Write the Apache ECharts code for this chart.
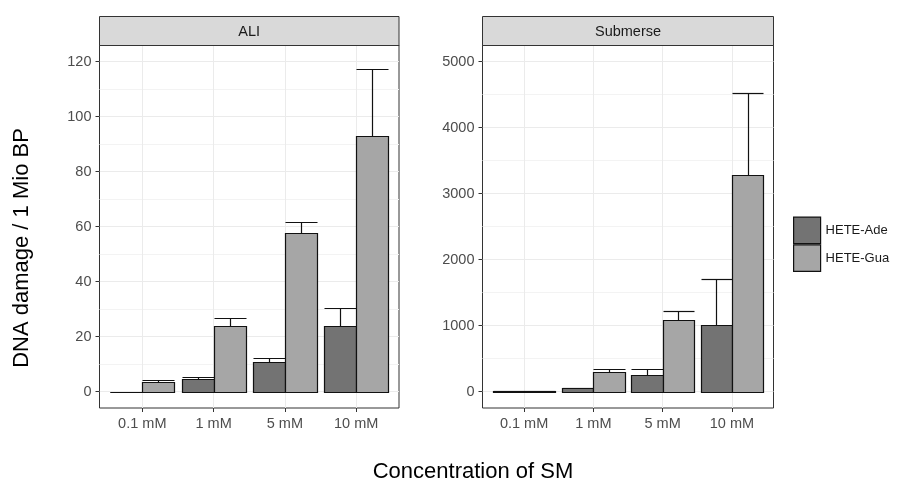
<!DOCTYPE html>
<html>
<head>
<meta charset="utf-8">
<script src="https://cdn.jsdelivr.net/npm/echarts@6/dist/echarts.min.js"></script>
<style>
  html, body { margin: 0; padding: 0; background: #fff; }
  #chart { width: 898px; height: 486px; }
</style>
</head>
<body>
<div id="chart"></div>
<script>
// Concentrations of sulfur mustard (x categories)
const categories = ['0.1 mM', '1 mM', '5 mM', '10 mM'];
const seriesNames = ['HETE-Ade', 'HETE-Gua'];
const panelNames = ['ALI', 'Submerse'];

// ALI: mean and mean + SD
const aliAde = [0, 4.4, 10.7, 23.8];
const aliAdeUpper = [0, 5.3, 12.2, 30.2];
const aliGua = [3.4, 23.9, 57.6, 92.8];
const aliGuaUpper = [4.1, 26.7, 61.7, 117.2];

// Submerse: mean and mean + SD
const subAde = [5, 55, 252, 1005];
const subAdeUpper = [5, 60, 348, 1712];
const subGua = [10, 303, 1080, 3277];
const subGuaUpper = [12, 348, 1222, 4530];

// Tick labels
const aliTicks = [0, 20, 40, 60, 80, 100, 120];
const aliMinor = [10, 30, 50, 70, 90, 110];
const subTicks = [0, 1000, 2000, 3000, 4000, 5000];
const subMinor = [500, 1500, 2500, 3500, 4500];

const FONT = '"Liberation Sans", Arial, Helvetica, sans-serif';
const COLORS = ['#737373', '#a6a6a6'];
const EDGE = '#111111';
const DODGE = 0.45; // width of each dodged bar in category units

// Panel geometry
const panels = [
  { left: 99.5, top: 45, width: 299.5, height: 363, yMin: -6, yMax: 126 },
  { left: 482.5, top: 45, width: 291, height: 363, yMin: -250, yMax: 5250 }
];
const STRIP_TOP = 16;

const chart = echarts.init(document.getElementById('chart'), null, { renderer: 'canvas' });

const crisp = v => Math.round(v) + 0.5;

function barRender(offset) {
  return function (params, api) {
    const x = api.value(0), v = api.value(1);
    const p0 = api.coord([x + offset - DODGE / 2, 0]);
    const p1 = api.coord([x + offset + DODGE / 2, v]);
    const x0 = crisp(p0[0]), x1 = crisp(p1[0]);
    const yb = crisp(p0[1]), yt = crisp(p1[1]);
    return {
      type: 'rect',
      shape: { x: x0, y: yt, width: x1 - x0, height: Math.max(yb - yt, 0) },
      style: { fill: api.visual('color'), stroke: EDGE, lineWidth: 1.2 }
    };
  };
}

function errRender(offset) {
  return function (params, api) {
    const x = api.value(0), v = api.value(1), up = api.value(2);
    const c = api.coord([x + offset, v]);
    const u = api.coord([x + offset, up]);
    const l = api.coord([x + offset - DODGE / 2, up]);
    const r = api.coord([x + offset + DODGE / 2, up]);
    const xc = crisp(c[0]), yu = crisp(u[1]);
    return {
      type: 'group',
      children: [
        { type: 'line', shape: { x1: xc, y1: crisp(c[1]), x2: xc, y2: yu }, style: { stroke: EDGE, lineWidth: 1.2 } },
        { type: 'line', shape: { x1: crisp(l[0]), y1: yu, x2: crisp(r[0]), y2: yu }, style: { stroke: EDGE, lineWidth: 1.2 } }
      ]
    };
  };
}

const panelData = [
  { means: [aliAde, aliGua], uppers: [aliAdeUpper, aliGuaUpper], ticks: aliTicks, minor: aliMinor },
  { means: [subAde, subGua], uppers: [subAdeUpper, subGuaUpper], ticks: subTicks, minor: subMinor }
];

const grid = [], xAxis = [], yAxis = [], series = [], graphic = [];
const catIdx = categories.map((c, i) => i);

panels.forEach((p, k) => {
  grid.push({ left: p.left, top: p.top, width: p.width, height: p.height, show: true,
              borderColor: '#333333', borderWidth: 1, backgroundColor: 'transparent', containLabel: false });
  xAxis.push({
    type: 'value', gridIndex: k, min: -0.6, max: 3.6, position: 'bottom',
    axisLine: { show: false, onZero: false },
    axisTick: { show: true, customValues: catIdx, length: 4, lineStyle: { color: '#333333' } },
    axisLabel: { customValues: catIdx, formatter: v => categories[Math.round(v)] || '',
                 color: '#4d4d4d', fontSize: 14.5, fontFamily: FONT, margin: 8 },
    splitLine: { show: true, lineStyle: { color: '#ebebeb', width: 1 } }
  });
  // major axis with labels
  yAxis.push({
    type: 'value', gridIndex: k, min: p.yMin, max: p.yMax, position: 'left',
    axisLine: { show: false, onZero: false },
    axisTick: { show: true, customValues: panelData[k].ticks, length: 4, lineStyle: { color: '#333333' } },
    axisLabel: { customValues: panelData[k].ticks, formatter: v => String(v),
                 color: '#4d4d4d', fontSize: 14.5, fontFamily: FONT, margin: 8 },
    splitLine: { show: true, lineStyle: { color: '#ebebeb', width: 1 } }
  });
  // minor grid lines
  yAxis.push({
    type: 'value', gridIndex: k, min: p.yMin, max: p.yMax, position: 'left',
    axisLine: { show: false, onZero: false },
    axisTick: { show: false, customValues: panelData[k].minor },
    axisLabel: { show: false, customValues: panelData[k].minor },
    splitLine: { show: true, lineStyle: { color: '#f3f3f3', width: 1 } }
  });
  const yMain = k * 2;
  [0, 1].forEach(s => {
    const offset = s === 0 ? -DODGE / 2 : DODGE / 2;
    series.push({
      type: 'custom', name: seriesNames[s] + ' error', xAxisIndex: k, yAxisIndex: yMain,
      renderItem: errRender(offset), z: 2, silent: true,
      data: catIdx.map(i => [i, panelData[k].means[s][i], panelData[k].uppers[s][i]])
    });
    series.push({
      type: 'custom', name: seriesNames[s], xAxisIndex: k, yAxisIndex: yMain,
      renderItem: barRender(offset), z: 3,
      itemStyle: { color: COLORS[s], borderColor: EDGE, borderWidth: 1.2 },
      data: catIdx.map(i => [i, panelData[k].means[s][i]])
    });
  });
  // facet strip
  graphic.push({
    type: 'rect', shape: { x: p.left, y: STRIP_TOP + 0.5, width: p.width, height: p.top - STRIP_TOP },
    style: { fill: '#d9d9d9', stroke: '#333333', lineWidth: 1 }, z: 10
  });
  graphic.push({
    type: 'text', x: p.left + p.width / 2, y: (STRIP_TOP + p.top) / 2 + 1,
    style: { text: panelNames[k], fill: '#1a1a1a', font: '14.5px ' + FONT, align: 'center', verticalAlign: 'middle' }, z: 11
  });
});

graphic.push({
  type: 'text', x: 22, y: 248, rotation: Math.PI / 2,
  style: { text: 'DNA damage / 1 Mio BP', fill: '#000', font: '22px ' + FONT, align: 'center', verticalAlign: 'middle' }
});
graphic.push({
  type: 'text', x: 473, y: 472,
  style: { text: 'Concentration of SM', fill: '#000', font: '22px ' + FONT, align: 'center', verticalAlign: 'middle' }
});

chart.setOption({
  backgroundColor: '#ffffff',
  animation: false,
  grid, xAxis, yAxis, series, graphic,
  legend: {
    data: seriesNames, orient: 'vertical', left: 793, top: 216.5,
    itemWidth: 27, itemHeight: 26.5, itemGap: 0, icon: 'rect',
    itemStyle: { borderColor: EDGE, borderWidth: 1.2 },
    textStyle: { color: '#1a1a1a', fontSize: 13, fontFamily: FONT },
    padding: 0, selectedMode: false
  }
});
</script>
</body>
</html>
